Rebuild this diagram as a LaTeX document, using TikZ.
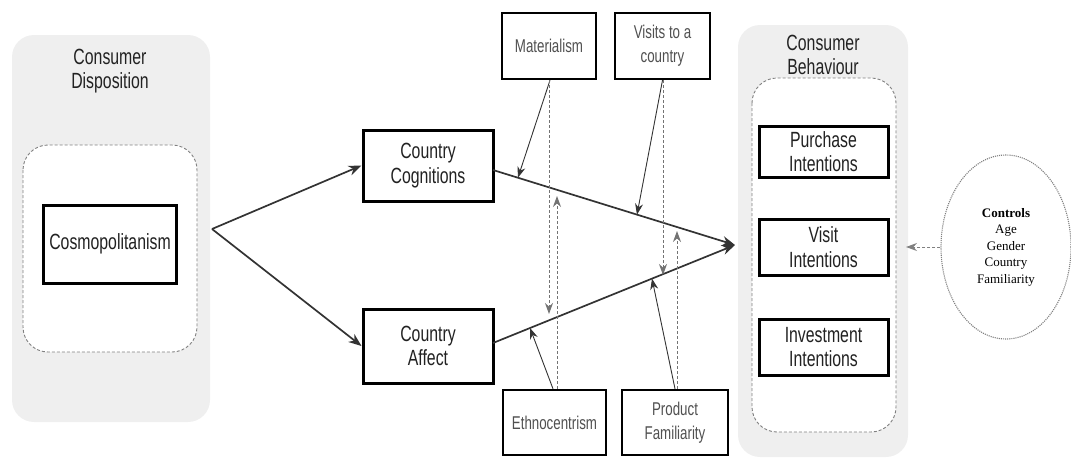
\documentclass[tikz,border=0pt]{standalone}
\usepackage{fontspec}
\setmainfont[FakeStretch=0.72]{Liberation Sans}
\newfontfamily\ctrlfont{Liberation Serif}
\usetikzlibrary{arrows.meta,calc,shapes.geometric}
\definecolor{panelgray}{HTML}{EFEFEF}
\definecolor{inkgray}{HTML}{222222}
\definecolor{softgray}{HTML}{505050}
\definecolor{linegray}{HTML}{333333}
\begin{document}
\begin{tikzpicture}[x=1pt,y=-1pt,
  panel/.style={fill=panelgray,draw=none,rounded corners=22pt},
  inner/.style={fill=white,draw=gray,densely dashed,line width=0.9pt,rounded corners=25pt},
  bigbox/.style={draw=black,line width=3pt,fill=white,align=center,inner sep=0pt,
     font=\fontsize{22}{24.5}\selectfont,text=inkgray},
  smallbox/.style={draw=black,line width=2.4pt,fill=white,align=center,inner sep=0pt,
     font=\fontsize{18.5}{24}\selectfont,text=softgray},
  title/.style={align=center,font=\fontsize{22}{24}\selectfont,text=inkgray},
  mainarrow/.style={draw=linegray,line width=1.7pt,-{Stealth[length=13pt,width=10pt]}},
  modarrow/.style={draw=linegray,line width=0.9pt,-{Stealth[length=11pt,width=8pt]}},
  vertarrow/.style={draw=gray!90!black,line width=0.9pt,densely dashed,-{Stealth[length=11pt,width=8pt]}},
]
\useasboundingbox (0,0) rectangle (1071,463);
% left panel
\fill[panel] (12,35) rectangle (210,422);
\node[title] (ltitle) at (110,71) {Consumer\\Disposition};
\draw[inner] (23,145) rectangle (197,352);
\node[bigbox,minimum width=133pt,minimum height=78pt] (cosmo) at (110,244) {Cosmopolitanism};
% right panel
\fill[panel] (738,25) rectangle (908,457);
\node[title] (rtitle) at (823,55) {Consumer\\Behaviour};
\draw[inner] (752,78) rectangle (896,432);
\node[bigbox,minimum width=129pt,minimum height=51pt] (pi) at (823.5,151.5) {Purchase\\Intentions};
\node[bigbox,minimum width=129pt,minimum height=56pt] (vi) at (823.5,247) {Visit\\Intentions};
\node[bigbox,minimum width=129pt,minimum height=56pt] (ii) at (823.5,347) {Investment\\Intentions};
% middle boxes
\node[bigbox,minimum width=130pt,minimum height=71pt] (cc) at (428,165.5) {Country\\Cognitions};
\node[bigbox,minimum width=130pt,minimum height=74pt] (ca) at (428,346) {Country\\Affect};
\node[smallbox,minimum width=94pt,minimum height=66pt] (mat) at (549,46) {Materialism};
\node[smallbox,minimum width=95pt,minimum height=66pt] (vis) at (662.5,46) {Visits to a\\country};
\node[smallbox,minimum width=103pt,minimum height=65pt] (eth) at (554.5,422.5) {Ethnocentrism};
\node[smallbox,minimum width=106pt,minimum height=65pt] (pf) at (675,422.5) {Product\\Familiarity};
% controls
\node[draw=gray,densely dotted,line width=1.1pt,ellipse,minimum width=130pt,minimum height=184pt,
  inner sep=0pt,align=center,font=\ctrlfont\fontsize{13}{16.5}\selectfont,text=black] (ctrl) at (1006,247)
  {\textbf{Controls}\\Age\\Gender\\Country\\Familiarity};
% coordinates
\coordinate (split) at (212,229);
\coordinate (hub) at (735,245);
\coordinate (ccOut) at (493,170);
\coordinate (caOut) at (493,343);
\coordinate (ctrlTip) at (906,247);
% main arrows
\draw[mainarrow] (split) -- (cc.west);
\draw[mainarrow] (split) -- (ca.west);
\draw[mainarrow] (ccOut) -- (hub);
\draw[mainarrow] (caOut) -- (hub);
\draw[draw=gray,densely dashed,line width=1pt,-{Stealth[length=11pt,width=8pt]}] (ctrl.west) -- (ctrlTip);
% moderators: slanted arrows
\draw[modarrow] ([xshift=1pt]mat.south) -- ($(ccOut)!0.103!(hub)$);
\draw[modarrow] (vis.south) -- ($(ccOut)!0.595!(hub)$);
\draw[modarrow] ([xshift=-1.5pt]eth.north) -- ($(caOut)!0.153!(hub)$);
\draw[modarrow] (pf.north) -- ($(caOut)!0.657!(hub)$);
% moderators: vertical arrows
\coordinate (matTip) at (549,314);
\coordinate (ethTip) at (557,196);
\coordinate (visTip) at (663,275);
\coordinate (pfTip) at (677,231);
\draw[vertarrow] (mat.south -| matTip) -- (matTip);
\draw[vertarrow] (eth.north -| ethTip) -- (ethTip);
\draw[vertarrow] (vis.south -| visTip) -- (visTip);
\draw[vertarrow] (pf.north -| pfTip) -- (pfTip);
\end{tikzpicture}
\end{document}
